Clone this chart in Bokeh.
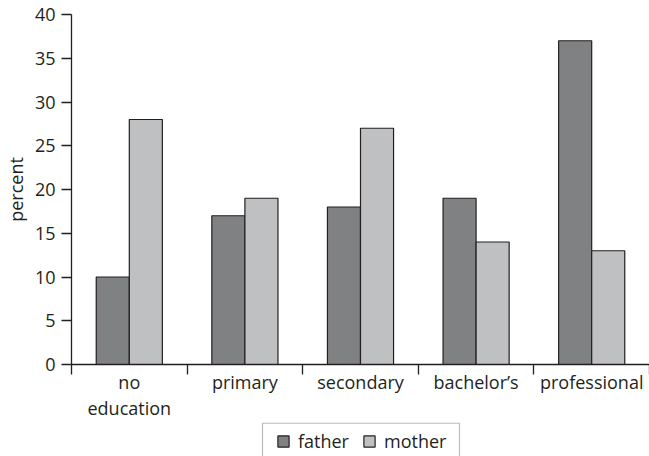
import numpy as np
from bokeh.plotting import figure
from bokeh.layouts import column
from bokeh.models import (Range1d, FixedTicker, Legend, LegendItem, ColumnDataSource, BoxAnnotation)
from bokeh.embed import file_html
from bokeh.resources import INLINE

categories = ["no\neducation", "primary", "secondary", "bachelor\u2019s", "professional"]
father = [10, 17, 18, 19, 37]
mother = [28, 19, 27, 14, 13]
y_ticks = [0, 5, 10, 15, 20, 25, 30, 35, 40]
series_names = ["father", "mother"]

INK = "#231f20"
FONT = "Open Sans"
FS = "18px"
BAR_W = 0.286
C_FATHER = "#808183"
C_MOTHER = "#bfc0c2"

idx = np.arange(len(categories))
centers = idx + 0.5
src = ColumnDataSource(dict(
    xf=centers - BAR_W / 2, xm=centers + BAR_W / 2,
    father=father, mother=mother))

p = figure(width=649, height=422, output_backend="svg", toolbar_location=None,
           x_range=Range1d(0, len(categories)), y_range=Range1d(0, 40),
           min_border_left=71, min_border_right=0, min_border_top=14, min_border_bottom=58)
p.outline_line_color = None
p.grid.grid_line_color = None
p.background_fill_color = "white"
p.border_fill_color = "white"

rf = p.vbar(x="xf", top="father", width=BAR_W, source=src,
            fill_color=C_FATHER, line_color=INK, line_width=1.2)
rm = p.vbar(x="xm", top="mother", width=BAR_W, source=src,
            fill_color=C_MOTHER, line_color=INK, line_width=1.2)

# x axis: labels at centers, ticks at boundaries
xa = p.xaxis[0]
xa.ticker = FixedTicker(ticks=list(centers), minor_ticks=list(range(len(categories) + 1)))
xa.major_label_overrides = {float(c): lab for c, lab in zip(centers, categories)}
xa.major_tick_out = 0
xa.major_tick_in = 0
xa.minor_tick_out = 10
xa.minor_tick_in = 0
xa.minor_tick_line_color = INK
xa.minor_tick_line_width = 1.3
xa.axis_line_color = INK
xa.axis_line_width = 1.3
xa.major_label_standoff = -5
xa.major_label_text_font = FONT
xa.major_label_text_font_size = FS
xa.major_label_text_color = INK
xa.major_label_text_line_height = 1.1

ya = p.yaxis[0]
ya.ticker = FixedTicker(ticks=y_ticks)
ya.minor_tick_line_color = None
ya.major_tick_out = 10
ya.major_tick_in = 0
ya.major_tick_line_color = INK
ya.major_tick_line_width = 1.3
ya.axis_line_color = INK
ya.axis_line_width = 1.3
ya.major_label_standoff = 6
ya.major_label_text_font = FONT
ya.major_label_text_font_size = FS
ya.major_label_text_color = INK
ya.axis_label = "percent"
ya.axis_label_text_font = FONT
ya.axis_label_text_font_size = FS
ya.axis_label_text_font_style = "normal"
ya.axis_label_text_color = INK
ya.axis_label_text_line_height = 1.0
ya.axis_label_standoff = 4

# legend strip below the chart (frame in pixel units)
LG_W, LG_H = 578, 34
lg = figure(width=649, height=LG_H, output_backend="svg", toolbar_location=None,
            x_range=Range1d(0, LG_W), y_range=Range1d(0, LG_H),
            x_axis_location=None, y_axis_location=None,
            min_border_left=71, min_border_right=0, min_border_top=0, min_border_bottom=0)
lg.grid.grid_line_color = None
lg.outline_line_color = None
lg.border_fill_color = "white"
lf = lg.vbar(x="xf", top="father", width=BAR_W, source=src, visible=False,
             fill_color=C_FATHER, line_color=INK, line_width=1.2)
lm = lg.vbar(x="xm", top="mother", width=BAR_W, source=src, visible=False,
             fill_color=C_MOTHER, line_color=INK, line_width=1.2)

lg.add_layout(BoxAnnotation(left=191, right=388, top=33.4, bottom=-10,
                            fill_alpha=0, line_color=INK, line_width=1.2))

legend = Legend(items=[LegendItem(label=series_names[0], renderers=[lf]),
                       LegendItem(label=series_names[1], renderers=[lm])],
                orientation="horizontal", location=(205, 3),
                glyph_width=14, glyph_height=14, label_standoff=8, spacing=13,
                padding=0, margin=0, border_line_color=None,
                background_fill_alpha=0.0,
                label_text_font=FONT, label_text_font_size=FS, label_text_color=INK,
                label_height=14)
lg.add_layout(legend, "center")

layout = column(p, lg, spacing=0)
open("out.html", "w").write(file_html(layout, INLINE))
